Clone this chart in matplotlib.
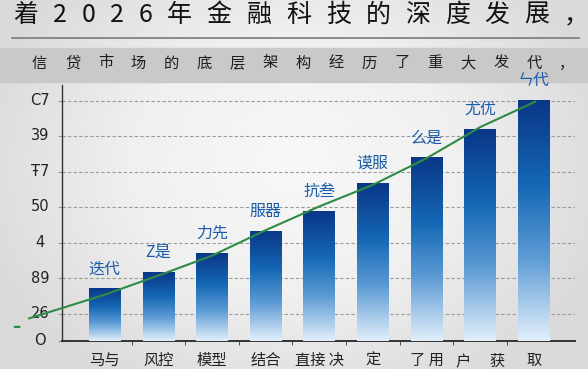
import numpy as np
import matplotlib
matplotlib.use("Agg")
import matplotlib.pyplot as plt
import matplotlib.transforms as mtransforms
from matplotlib.colors import LinearSegmentedColormap
from matplotlib.patches import Rectangle
from matplotlib.lines import Line2D

plt.rcParams['font.family'] = ['Noto Sans CJK SC', 'DejaVu Sans']

# data
title_text = "着2026年金融科技的深度发展，"
subtitle_text = "信贷市场的底层架构经历了重大发代，"
categories = ["马与", "风控", "模型", "结合", "直接 决", "定", "了 用", "户\u3000 获", "取"]
values = [1.48, 1.94, 2.48, 3.11, 3.67, 4.46, 5.18, 5.98, 6.80]
bar_labels = ["迭代", "Z是", "力先", "服器", "抗叁", "谟服", "么是", "尤优", "ㄣ代"]
trend_x = [-1.41, 0, 1, 2, 3, 4, 5, 6, 7, 8.03]
trend_y = [0.63, 1.30, 1.84, 2.40, 3.12, 3.79, 4.40, 5.15, 6.03, 6.75]
ytick_pos = [0, 0.76, 1.77, 2.77, 3.78, 4.77, 5.78, 6.77]
ytick_labels = ["O", "26", "89", "4", "50", "Ŧ7", "39", "C7"]

W, H = 588, 369
fig = plt.figure(figsize=(W / 100, H / 100), dpi=100)

# background vignette
bg = fig.add_axes([0, 0, 1, 1], zorder=-10)
yy, xx = np.mgrid[0:1:200j, 0:1:300j]
r = np.sqrt(((xx - 0.5) / 0.8) ** 2 + ((yy - 0.45) / 1.0) ** 2)
bg_cmap = LinearSegmentedColormap.from_list("bg", ["#f8f8f8", "#f0f0f0", "#dadada"])
bg.imshow(r, cmap=bg_cmap, vmin=0, vmax=0.7, aspect='auto', extent=[0, 1, 0, 1])
bg.axis('off')

# header band and rule
fig.patches.append(Rectangle((0, 1 - 82 / H), 1, 34 / H, transform=fig.transFigure,
                             color='#c9c9c9', zorder=-5))
fig.lines.append(Line2D([12 / W, 579 / W], [1 - 37.7 / H] * 2, transform=fig.transFigure,
                        color='#7a7a7a', lw=1.2))


def spaced_text(s, x0, y, gap, **kw):
    rend = fig.canvas.get_renderer()
    x = x0
    for ch in s:
        t = fig.text(x / W, 1 - y / H, ch, va='center', ha='left', **kw)
        x += t.get_window_extent(renderer=rend).width + gap


spaced_text(title_text, 13, 15, 14.7, fontsize=18, weight='medium', color='#111111')
spaced_text(subtitle_text, 32, 63, 17.7, fontsize=11, weight='medium', color='#1e1e1e')

ax = fig.add_axes([62 / W, 1 - 340.7 / H, 513 / W, 255.7 / H])
ax.patch.set_alpha(0)
x = np.arange(len(categories))
ax.set_xlim(-0.797, 8.77)
ax.set_ylim(0, 7.22)

bar_cmap = LinearSegmentedColormap.from_list(
    "bars", [(0, "#0a3787"), (0.35, "#1467b4"), (0.65, "#5b9ad4"), (1, "#e2effb")])
grad = np.linspace(0, 1, 256).reshape(-1, 1)
bars = ax.bar(x, values, width=0.59, color='none', zorder=3)
for b in bars:
    x0, w, h = b.get_x(), b.get_width(), b.get_height()
    im = ax.imshow(grad, cmap=bar_cmap, aspect='auto', extent=[x0, x0 + w, 0, h],
                   origin='upper', zorder=3)
    im.set_clip_path(b)

for xi, v, lab in zip(x, values, bar_labels):
    ax.annotate(lab, (xi, v), xytext=(0, 14), textcoords='offset points',
                ha='center', va='center', fontsize=11.5, color='#1a5ca8', zorder=5)

ax.plot(trend_x, trend_y, color='#2e8b45', lw=1.5, zorder=4, clip_on=False)

# grid & axes
ax.set_yticks(ytick_pos)
ax.set_yticklabels([])
ax.tick_params(axis='y', length=3, color='#999999')
ax.yaxis.grid(True, linestyle=(0, (3, 2)), color='#9a9a9a', lw=0.8, zorder=1)
trans = mtransforms.blended_transform_factory(ax.transAxes, ax.transData)
for p, lab in zip(ytick_pos, ytick_labels):
    ax.text(-0.043, p, lab, transform=trans, ha='center', va='center',
            fontsize=10.5, color='#222222', family='DejaVu Sans')
ax.text(-0.09, 0.39, "–", transform=trans, ha='center', va='center',
        fontsize=12, weight='bold', color='#2e8b45', family='DejaVu Sans')

ax.set_xticks(x)
ax.set_xticklabels(categories, fontsize=11, color='#222222')
ax.tick_params(axis='x', which='major', length=0, pad=8)
ax.set_xticks(x[:-1] + 0.5, minor=True)
ax.tick_params(axis='x', which='minor', length=3, color='#333333')

for s in ['top', 'right']:
    ax.spines[s].set_visible(False)
ax.spines['left'].set_color('#333333')
ax.spines['left'].set_linewidth(1.0)
ax.spines['bottom'].set_color('#333333')
ax.spines['bottom'].set_linewidth(1.4)

fig.savefig("out.png", dpi=100)
